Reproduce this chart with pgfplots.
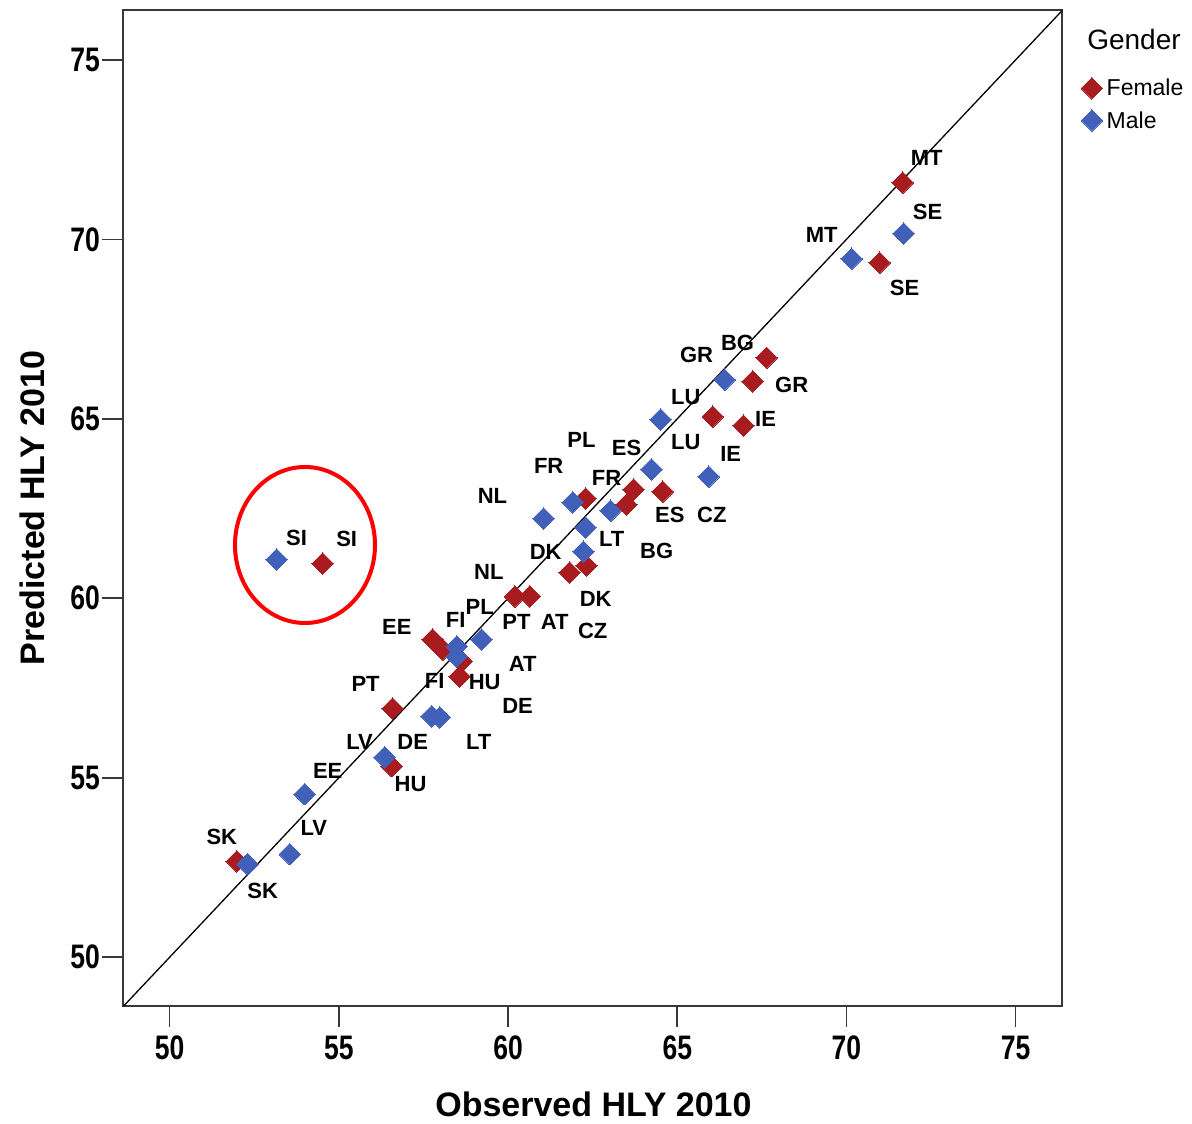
\documentclass[border=0pt]{standalone}
\usepackage{fontspec}
\setmainfont{Liberation Sans}
\newfontfamily\tickfont[FakeStretch=0.78]{Liberation Sans}
\usepackage{pgfplots}
\usepackage{pgfplotstable}
\pgfplotsset{compat=1.18}

\definecolor{fem}{RGB}{168,28,32}
\definecolor{mal}{RGB}{64,96,186}
\newcommand\lblfont{\bfseries\fontsize{22}{22}\selectfont}

\pgfplotstableread{
x y
71.66 71.58
70.98 69.35
67.64 66.70
67.23 66.04
66.05 65.06
66.96 64.81
64.57 62.97
63.71 63.03
63.50 62.61
62.29 62.78
62.32 60.91
61.82 60.72
60.20 60.05
60.64 60.05
57.77 58.85
58.07 58.57
58.63 58.24
58.57 57.82
56.59 56.93
56.56 55.32
51.98 52.67
54.52 60.97
}\female

\pgfplotstableread{
x y
71.69 70.16
70.15 69.46
66.40 66.09
64.51 64.98
64.24 63.59
65.93 63.39
61.91 62.67
61.05 62.22
63.03 62.44
62.29 61.97
62.23 61.30
58.48 58.66
58.48 58.38
59.22 58.85
57.74 56.71
57.98 56.68
56.35 55.57
53.99 54.54
53.55 52.87
52.30 52.59
53.16 61.08
}\male

% country labels (position of the text)
\pgfplotstableread{
x y lab
72.37 72.27 MT
72.40 70.77 SE
69.27 70.13 MT
71.72 68.65 SE
65.57 66.79 GR
66.78 67.12 BG
68.38 65.95 GR
65.25 65.62 LU
65.25 64.34 LU
67.61 65.01 IE
66.58 64.03 IE
62.17 64.42 PL
63.50 64.20 ES
61.20 63.70 FR
62.91 63.34 FR
59.54 62.86 NL
64.78 62.31 ES
66.02 62.31 CZ
63.06 61.66 LT
64.39 61.33 BG
61.11 61.28 DK
59.43 60.72 NL
62.59 59.97 DK
59.16 59.77 PL
58.45 59.41 FI
60.25 59.33 PT
61.38 59.33 AT
62.50 59.08 CZ
56.71 59.19 EE
60.43 58.16 AT
57.83 57.71 FI
59.31 57.66 HU
60.28 56.99 DE
55.79 57.60 PT
55.61 55.99 LV
57.18 55.99 DE
59.13 55.99 LT
54.67 55.18 EE
57.12 54.82 HU
54.26 53.59 LV
51.54 53.34 SK
52.75 51.84 SK
53.75 61.69 SI
55.23 61.64 SI
}\labels

\begin{document}
\begin{tikzpicture}
\path[use as bounding box] (-123pt,-118pt) rectangle (1069pt,1006pt);
\begin{axis}[
    width=939pt, height=996pt, scale only axis,
    at={(0pt,0pt)}, anchor=south west,
    xmin=48.62, xmax=76.37,
    ymin=48.64, ymax=76.39,
    xtick={50,55,...,75}, ytick={50,55,...,75},
    xtick pos=left, ytick pos=left,
    tick align=outside, major tick length=21pt,
    axis line style={draw=black!78, line width=1.8pt},
    tick style={black!78, line width=1.6pt},
    tick label style={font=\tickfont\bfseries\fontsize{34}{34}\selectfont},
    /pgf/number format/assume math mode=true,
    xticklabel style={inner sep=9pt},
    yticklabel style={inner sep=2pt},
    xlabel={Observed HLY 2010},
    ylabel={Predicted HLY 2010},
    label style={font=\bfseries\fontsize{34}{34}\selectfont},
    xlabel style={at={(axis description cs:0.501,-0.0984)}, anchor=center},
    ylabel style={at={(axis description cs:-0.0969,0.5)}, anchor=center},
    legend style={at={(axis description cs:1,1)}, anchor=north west,
        xshift=19pt, yshift=-67pt, draw=none, fill=none,
        inner sep=0pt, font=\fontsize{23}{23}\selectfont,
        row sep=10pt, column sep=2pt},
    legend cell align=left,
]
\addplot[forget plot, black, line width=1.3pt] coordinates {(48,48) (77,77)};
\addplot[only marks, mark=square*, mark size=7.6pt,
    mark options={rotate=45, draw=fem, fill=fem, line width=0pt}]
    table[x=x,y=y] {\female};
\addlegendentry{Female}
\addplot[only marks, mark=square*, mark size=7.6pt,
    mark options={rotate=45, draw=mal, fill=mal, line width=0pt}]
    table[x=x,y=y] {\male};
\addlegendentry{Male}
\addplot[forget plot, only marks, mark=none, nodes near coords,
    point meta=explicit symbolic,
    every node near coord/.append style={anchor=center, font=\lblfont, inner sep=0pt}]
    table[x=x,y=y,meta=lab] {\labels};
\end{axis}
\draw[red, line width=4pt] (182pt,461pt) ellipse [x radius=70pt, y radius=78pt];
\node[font=\fontsize{28}{28}\selectfont] at (1011pt,966pt) {Gender};
\end{tikzpicture}
\end{document}
